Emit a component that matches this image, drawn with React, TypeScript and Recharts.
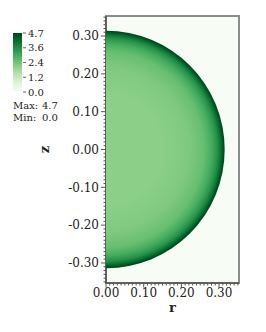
import React from "react";
import * as Recharts from "recharts";

const { ScatterChart, Scatter, XAxis, YAxis, CartesianGrid, ReferenceArea } = Recharts;

// axes
const rDomain = [0, 0.353];
const zDomain = [-0.353, 0.353];
const rTicks = [0, 0.1, 0.2, 0.3];
const zTicks = [-0.3, -0.2, -0.1, 0, 0.1, 0.2, 0.3];
const rMinor = Array.from({ length: 36 }, (_, i) => +(i * 0.01).toFixed(2));
const zMinor = Array.from({ length: 71 }, (_, i) => +(-0.35 + i * 0.01).toFixed(2));

// the sphere (right half in the r-z plane) and its radial profile
const sphere = [{ r: 0.315, z: 0 }];
const profileR = [0, 0.15, 0.22, 0.26, 0.28, 0.295, 0.305, 0.311, 0.315];
const profileV = [2.05, 2.05, 2.2, 2.5, 2.9, 3.4, 4.0, 4.5, 4.7];

// colour bar
const barLabels = ["4.7", "3.6", "2.4", "1.2", "0.0"];
const vMax = 4.7;
const vMin = 0.0;

const greens = ["#f7fcf5", "#e5f5e0", "#c7e9c0", "#a1d99b", "#74c476", "#41ab5d", "#238b45", "#006d2c", "#00441b"];

const FONT = "'DejaVu Serif', 'Liberation Serif', serif";
const AXIS = "#555";
const TICK_SIZE = 4;
const TICK_GAP = 1;
const PLOT_LEFT = 98;

function hexToRgb(h: string) {
  return [parseInt(h.slice(1, 3), 16), parseInt(h.slice(3, 5), 16), parseInt(h.slice(5, 7), 16)];
}

function colorFor(v: number) {
  const t = Math.max(0, Math.min(1, (v - vMin) / (vMax - vMin)));
  const pos = t * (greens.length - 1);
  const i = Math.min(greens.length - 2, Math.floor(pos));
  const f = pos - i;
  const a = hexToRgb(greens[i]);
  const b = hexToRgb(greens[i + 1]);
  const c = a.map((x, k) => Math.round(x + (b[k] - x) * f));
  return `rgb(${c[0]},${c[1]},${c[2]})`;
}

const usePlotAreaHook: any = (Recharts as any).usePlotArea;
const useOffsetHook: any = (Recharts as any).useOffset;

function usePlotLeft(): number {
  if (usePlotAreaHook) {
    const a = usePlotAreaHook();
    return a ? a.x : PLOT_LEFT;
  }
  if (useOffsetHook) {
    const o = useOffsetHook();
    return o ? o.left : PLOT_LEFT;
  }
  return PLOT_LEFT;
}

function Disk(props: any) {
  const x0 = usePlotLeft();
  const { cx, cy } = props;
  const rad = cx - x0;
  const R = sphere[0].r;
  return (
    <g>
      <defs>
        <radialGradient id="field" gradientUnits="userSpaceOnUse" cx={x0} cy={cy} r={rad}>
          {profileR.map((r, i) => (
            <stop key={i} offset={r / R} stopColor={colorFor(profileV[i])} />
          ))}
        </radialGradient>
      </defs>
      <path d={`M${x0},${cy - rad} A${rad},${rad} 0 0 1 ${x0},${cy + rad} Z`} fill="url(#field)" />
    </g>
  );
}

const isMajor = (list: number[], v: number) => list.some((t) => Math.abs(t - v) < 1e-6);

function RTick({ x, y, payload }: any) {
  const v = payload.value;
  const major = isMajor(rTicks, v);
  const axisY = y - TICK_SIZE - TICK_GAP;
  return (
    <g>
      <line x1={x} x2={x} y1={axisY} y2={axisY + (major ? 4.5 : 2.5)} stroke={AXIS} />
      {major && (
        <text x={x} y={y} dy="0.71em" textAnchor="middle" fontSize={12} fontFamily={FONT} fill="#222">
          {v.toFixed(2)}
        </text>
      )}
    </g>
  );
}

function ZTick({ x, y, payload }: any) {
  const v = payload.value;
  const major = isMajor(zTicks, v);
  const axisX = x + TICK_SIZE + TICK_GAP;
  return (
    <g>
      <line x1={axisX - (major ? 5 : 2.5)} x2={axisX} y1={y} y2={y} stroke={AXIS} />
      {major && (
        <text x={x - 2} y={y} dy="0.35em" textAnchor="end" fontSize={12} fontFamily={FONT} fill="#222">
          {v.toFixed(2)}
        </text>
      )}
    </g>
  );
}

function ColorBar() {
  const top = 25;
  const bottom = 84;
  const step = (bottom - top) / (barLabels.length - 1);
  return (
    <svg width={70} height={120} style={{ position: "absolute", left: 0, top: 0 }}>
      <defs>
        <linearGradient id="bar" x1="0" y1="1" x2="0" y2="0">
          {greens.map((c, i) => (
            <stop key={i} offset={i / (greens.length - 1)} stopColor={c} />
          ))}
        </linearGradient>
      </defs>
      <rect x={5} y={top} width={9} height={bottom - top} fill="url(#bar)" />
      {barLabels.map((l, i) => (
        <g key={l}>
          <line x1={15} x2={18} y1={top + i * step} y2={top + i * step} stroke="#666" />
          <text x={20} y={top + i * step} dy="0.35em" fontSize={10} fontFamily={FONT} fill="#222">
            {l}
          </text>
        </g>
      ))}
      <text x={5} y={97} dy="0.35em" fontSize={10} fontFamily={FONT} fill="#222">Max:</text>
      <text x={34} y={97} dy="0.35em" fontSize={10} fontFamily={FONT} fill="#222">{vMax.toFixed(1)}</text>
      <text x={5} y={109} dy="0.35em" fontSize={10} fontFamily={FONT} fill="#222">Min:</text>
      <text x={34} y={109} dy="0.35em" fontSize={10} fontFamily={FONT} fill="#222">{vMin.toFixed(1)}</text>
    </svg>
  );
}

export default function App() {
  return (
    <div style={{ position: "relative", width: 258, height: 316 }}>
      <ScatterChart width={258} height={316} margin={{ top: 8, right: 27, bottom: 6, left: 0 }}>
        <CartesianGrid horizontal={false} vertical={false} fill="#f7fcf5" stroke="none" />
        <XAxis
          type="number"
          dataKey="r"
          domain={rDomain}
          ticks={rMinor}
          interval={0}
          allowDataOverflow
          height={35}
          tickSize={TICK_SIZE}
          tickMargin={TICK_GAP}
          tickLine={false}
          tick={<RTick />}
          axisLine={{ stroke: AXIS, strokeWidth: 1.5 }}
          label={{ value: "r", position: "center", dy: 7, fontSize: 13, fontWeight: "bold", fontFamily: FONT, fill: "#222" }}
        />
        <YAxis
          type="number"
          dataKey="z"
          domain={zDomain}
          ticks={zMinor}
          interval={0}
          allowDataOverflow
          width={98}
          tickSize={TICK_SIZE}
          tickMargin={TICK_GAP}
          tickLine={false}
          tick={<ZTick />}
          axisLine={{ stroke: AXIS, strokeWidth: 1.5 }}
          label={{ value: "z", angle: -90, position: "center", dx: -13, fontSize: 13, fontWeight: "bold", fontFamily: FONT, fill: "#222" }}
        />
        <Scatter data={sphere} isAnimationActive={false} shape={(p: any) => <Disk {...p} />} />
        <ReferenceArea
          x1={rDomain[0]}
          x2={rDomain[1]}
          y1={zDomain[0]}
          y2={zDomain[1]}
          fill="none"
          stroke="#8c8c8c"
          strokeWidth={2}
        />
      </ScatterChart>
      <ColorBar />
    </div>
  );
}
